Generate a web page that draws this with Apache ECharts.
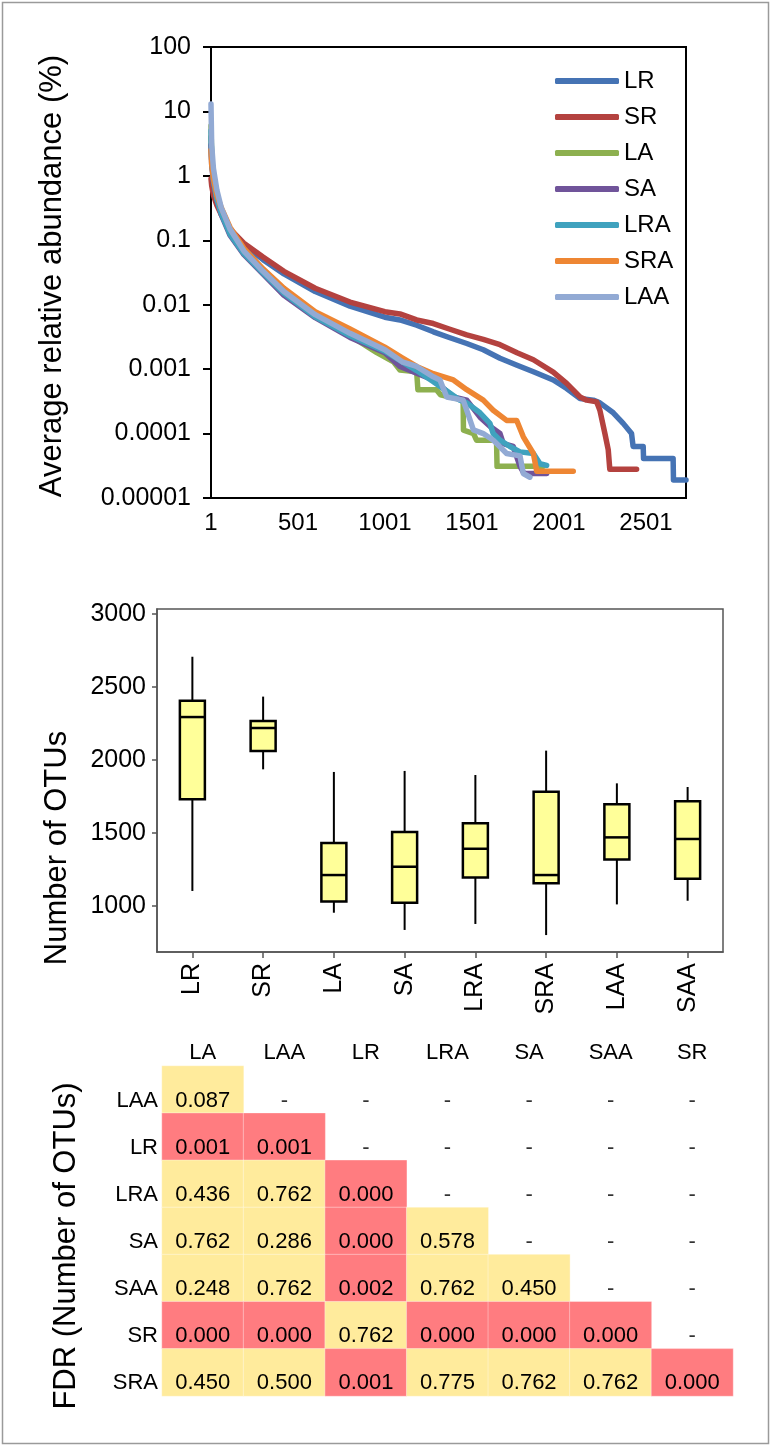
<!DOCTYPE html>
<html>
<head>
<meta charset="utf-8">
<script src="https://cdn.jsdelivr.net/npm/echarts@6/dist/echarts.min.js"></script>
<style>
  html, body { margin: 0; padding: 0; background: #fff; }
  #chart { width: 771px; height: 1446px; }
</style>
</head>
<body>
<div id="chart"></div>
<script>
// ---------- Panel 1: rank-abundance curves ([rank, average relative abundance %]) ----------
const seriesNames = ['LR', 'SR', 'LA', 'SA', 'LRA', 'SRA', 'LAA'];
const rankTickLabels = [1, 501, 1001, 1501, 2001, 2501];
const abundanceTickLabels = ['0.00001', '0.0001', '0.001', '0.01', '0.1', '1', '10', '100'];

const LR = [[1,4],[5,1.8],[15,0.9],[35,0.45],[60,0.28],[110,0.15],[190,0.085],[300,0.05],[420,0.03],[600,0.016],[800,0.0095],[1000,0.0064],[1087,0.0058],[1183,0.0048],[1279,0.0038],[1370,0.0031],[1471,0.0025],[1566,0.002],[1662,0.00148],[1760,0.00115],[1854,0.00091],[1968,0.00068],[2045,0.0005],[2122,0.00035],[2198,0.00033],[2236,0.0003],[2313,0.00021],[2370,0.000144],[2418,0.0001],[2427,0.000063],[2485,0.000063],[2487,0.000041],[2657,0.000041],[2659,0.000019],[2731,0.000019]];
const SR = [[1,0.9],[5,0.7],[15,0.5],[35,0.35],[60,0.25],[110,0.15],[190,0.09],[300,0.055],[420,0.033],[600,0.018],[800,0.011],[1000,0.0078],[1087,0.0072],[1183,0.0058],[1279,0.0051],[1370,0.0042],[1471,0.0034],[1566,0.0029],[1662,0.0024],[1760,0.0018],[1854,0.0014],[1968,0.0009],[2045,0.0006],[2122,0.00037],[2160,0.00033],[2218,0.00031],[2236,0.00023],[2265,0.0001],[2284,0.000056],[2293,0.000028],[2447,0.000028]];
const LA = [[1,6],[5,2],[15,0.9],[35,0.45],[60,0.26],[110,0.13],[190,0.065],[300,0.033],[420,0.016],[600,0.0068],[800,0.0033],[954,0.0018],[1050,0.0013],[1087,0.00097],[1183,0.00091],[1190,0.00048],[1297,0.00048],[1320,0.0004],[1450,0.00033],[1452,0.000113],[1510,0.0001],[1527,0.000079],[1642,0.000079],[1645,0.000031],[1911,0.000031]];
const SA = [[1,3],[5,1.5],[15,0.8],[35,0.42],[60,0.25],[110,0.12],[190,0.06],[300,0.03],[420,0.014],[600,0.0063],[800,0.0031],[1000,0.0018],[1087,0.0011],[1279,0.00068],[1394,0.00037],[1471,0.00033],[1547,0.00018],[1604,0.00013],[1662,0.0001],[1681,0.00007],[1738,0.000063],[1777,0.000031],[1800,0.000024],[1930,0.000024]];
const LRA = [[1,5],[5,1.8],[15,0.85],[35,0.43],[60,0.26],[110,0.125],[190,0.062],[300,0.031],[420,0.015],[600,0.0065],[800,0.0033],[1000,0.0019],[1100,0.0013],[1183,0.00095],[1279,0.00064],[1432,0.00033],[1471,0.0003],[1547,0.00021],[1604,0.000144],[1623,0.0001],[1662,0.000079],[1719,0.000063],[1777,0.000052],[1854,0.000049],[1892,0.000034],[1930,0.000032]];
const SRA = [[1,2.5],[5,1.5],[15,0.9],[35,0.5],[60,0.32],[110,0.16],[190,0.075],[300,0.036],[420,0.018],[600,0.0078],[800,0.0042],[1000,0.0022],[1100,0.0015],[1183,0.0011],[1279,0.00085],[1394,0.00068],[1471,0.00048],[1566,0.00033],[1623,0.00023],[1700,0.00016],[1758,0.00016],[1796,0.000089],[1854,0.000049],[1873,0.000026],[2083,0.000026]];
const LAA = [[1,13],[5,3],[15,1.3],[35,0.6],[60,0.32],[110,0.15],[190,0.068],[300,0.033],[420,0.016],[600,0.007],[800,0.0036],[1000,0.002],[1100,0.0013],[1183,0.0011],[1279,0.00076],[1317,0.00068],[1356,0.00037],[1450,0.00033],[1471,0.00023],[1509,0.000114],[1566,0.0001],[1623,0.000079],[1700,0.000049],[1777,0.000045],[1796,0.000024],[1834,0.000021]];
const curveData = [LR, SR, LA, SA, LRA, SRA, LAA];
const curveColors = ['#4573B4', '#B4423F', '#8DB04F', '#70549A', '#3FA2BE', '#EE8633', '#92AAD4'];

// ---------- Panel 2: Number of OTUs box plots ----------
const boxCategories = ['LR', 'SR', 'LA', 'SA', 'LRA', 'SRA', 'LAA', 'SAA'];
const boxMin    = [1103, 1936,  954,  836,  877,  801, 1011, 1036];
const boxQ1     = [1731, 2062, 1030, 1023, 1196, 1155, 1319, 1187];
const boxMedian = [2294, 2219, 1212, 1269, 1392, 1212, 1470, 1459];
const boxQ3     = [2406, 2267, 1431, 1507, 1566, 1782, 1696, 1717];
const boxMax    = [2707, 2434, 1918, 1925, 1897, 2064, 1840, 1815];
const otuTickValues = [1000, 1500, 2000, 2500, 3000];

// ---------- Panel 3: FDR table ----------
const fdrCols = ['LA', 'LAA', 'LR', 'LRA', 'SA', 'SAA', 'SR'];
const fdrRows = ['LAA', 'LR', 'LRA', 'SA', 'SAA', 'SR', 'SRA'];
const fdrLAA = [0.087, null, null, null, null, null, null];
const fdrLR  = [0.001, 0.001, null, null, null, null, null];
const fdrLRA = [0.436, 0.762, 0.000, null, null, null, null];
const fdrSA  = [0.762, 0.286, 0.000, 0.578, null, null, null];
const fdrSAA = [0.248, 0.762, 0.002, 0.762, 0.450, null, null];
const fdrSR  = [0.000, 0.000, 0.762, 0.000, 0.000, 0.000, null];
const fdrSRA = [0.450, 0.500, 0.001, 0.775, 0.762, 0.762, 0.000];
const fdrMatrix = [fdrLAA, fdrLR, fdrLRA, fdrSA, fdrSAA, fdrSR, fdrSRA];

// ---------- build ----------
const FONT = "'Liberation Sans', Arial, Helvetica, sans-serif";
const heatData = [], dashData = [];
fdrMatrix.forEach((row, r) => row.forEach((v, c) => {
  if (v === null) dashData.push([c, r]); else heatData.push([c, r, v]);
}));
const boxData = boxCategories.map((c, i) => [i, boxMin[i], boxQ1[i], boxMedian[i], boxQ3[i], boxMax[i]]);

function renderBox(params, api) {
  const i = api.value(0);
  const pMin = api.coord([i, api.value(1)]);
  const pQ1 = api.coord([i, api.value(2)]);
  const pMed = api.coord([i, api.value(3)]);
  const pQ3 = api.coord([i, api.value(4)]);
  const pMax = api.coord([i, api.value(5)]);
  const hw = 12.5, x = pMed[0];
  const ls = { stroke: '#000', lineWidth: 2 };
  return { type: 'group', children: [
    { type: 'line', shape: { x1: x, y1: pMax[1], x2: x, y2: pQ3[1] }, style: ls },
    { type: 'line', shape: { x1: x, y1: pQ1[1], x2: x, y2: pMin[1] }, style: ls },
    { type: 'rect', shape: { x: x - hw, y: pQ3[1], width: 2 * hw, height: pQ1[1] - pQ3[1] },
      style: { fill: '#FFFF99', stroke: '#000', lineWidth: 2.5 } },
    { type: 'line', shape: { x1: x - hw, y1: pMed[1], x2: x + hw, y2: pMed[1] }, style: { stroke: '#000', lineWidth: 2.5 } }
  ]};
}

const chart = echarts.init(document.getElementById('chart'), null, { renderer: 'canvas' });
const option = {
  animation: false,
  backgroundColor: '#fff',
  textStyle: { fontFamily: FONT },
  grid: [
    { left: 211, top: 47, width: 475, height: 451, show: true, borderColor: '#000', borderWidth: 2, backgroundColor: 'transparent' },
    { left: 157, top: 609, width: 566, height: 343, show: true, borderColor: '#555', borderWidth: 1.5, backgroundColor: 'transparent' },
    { left: 162, top: 1066, width: 571, height: 330 }
  ],
  legend: {
    orient: 'vertical', left: 550, top: 64, itemWidth: 64, itemHeight: 6, itemGap: 12,
    icon: 'roundRect', data: seriesNames,
    textStyle: { fontSize: 24, color: '#000', lineHeight: 24, fontFamily: FONT }
  },
  visualMap: {
    type: 'piecewise', show: false, seriesIndex: 8, dimension: 2,
    pieces: [{ lt: 0.05, color: '#FF7C80' }, { gte: 0.05, color: '#FFEB9C' }]
  },
  xAxis: [
    { type: 'value', gridIndex: 0, min: 1, max: 2731,
      axisLine: { show: true, lineStyle: { color: '#000', width: 2 } },
      axisTick: { show: false }, splitLine: { show: false },
      axisLabel: { customValues: rankTickLabels, fontSize: 24, color: '#000', margin: 13, fontFamily: FONT,
        formatter: v => String(v) } },
    { type: 'category', gridIndex: 1, data: boxCategories,
      axisLine: { show: true, lineStyle: { color: '#555', width: 1.5 } },
      axisTick: { show: true, alignWithLabel: true, length: 6, lineStyle: { color: '#555', width: 1.5 } },
      axisLabel: { rotate: 90, fontSize: 25, color: '#000', margin: 11, fontFamily: FONT } },
    { type: 'category', gridIndex: 2, data: fdrCols, position: 'top',
      axisLine: { show: false }, axisTick: { show: false }, splitLine: { show: false },
      axisLabel: { fontSize: 22, color: '#000', margin: 2, fontFamily: FONT } }
  ],
  yAxis: [
    { type: 'log', gridIndex: 0, logBase: 10, min: 0.00001, max: 100,
      axisLine: { show: true, lineStyle: { color: '#000', width: 2 } },
      axisTick: { show: true, length: 8, lineStyle: { color: '#000', width: 2 } },
      splitLine: { show: false }, minorTick: { show: false },
      axisLabel: { fontSize: 25, color: '#000', margin: 20, fontFamily: FONT,
        formatter: v => abundanceTickLabels[Math.round(Math.log10(v)) + 5] || '' } },
    { type: 'value', gridIndex: 1, min: 685, max: 3034,
      axisLine: { show: true, lineStyle: { color: '#555', width: 1.5 } },
      axisTick: { show: true, length: 5, customValues: otuTickValues, lineStyle: { color: '#555', width: 1.5 } },
      splitLine: { show: false },
      axisLabel: { customValues: otuTickValues, fontSize: 25, color: '#000', margin: 11, fontFamily: FONT,
        formatter: v => String(v) } },
    { type: 'category', gridIndex: 2, data: fdrRows, inverse: true,
      axisLine: { show: false }, axisTick: { show: false }, splitLine: { show: false },
      axisLabel: { fontSize: 22, color: '#000', margin: 4, fontFamily: FONT, verticalAlign: 'top', lineHeight: 22 } }
  ],
  series: [
    ...seriesNames.map((n, i) => ({
      name: n, type: 'line', xAxisIndex: 0, yAxisIndex: 0, data: curveData[i],
      showSymbol: false, symbol: 'none', smooth: false,
      lineStyle: { width: 5.5, color: curveColors[i], cap: 'round', join: 'round' },
      itemStyle: { color: curveColors[i] }
    })),
    { type: 'custom', xAxisIndex: 1, yAxisIndex: 1, data: boxData, renderItem: renderBox,
      encode: { x: 0, y: [1, 2, 3, 4, 5] } },
    { type: 'heatmap', xAxisIndex: 2, yAxisIndex: 2, data: heatData,
      itemStyle: { borderColor: 'rgba(255,255,255,0.35)', borderWidth: 1 },
      label: { show: true, fontSize: 22, color: '#000', fontFamily: FONT, offset: [0, 11],
        formatter: p => p.value[2].toFixed(3) } },
    { type: 'scatter', xAxisIndex: 2, yAxisIndex: 2, data: dashData, symbol: 'rect', symbolSize: 1,
      itemStyle: { color: 'rgba(0,0,0,0)' },
      label: { show: true, position: 'inside', formatter: '-', fontSize: 22, color: '#000', fontFamily: FONT, offset: [0, 11] } }
  ],
  graphic: [
    { type: 'rect', shape: { x: 2.5, y: 2.5, width: 766, height: 1441 }, style: { fill: 'none', stroke: '#9a9a9a', lineWidth: 1.5 }, silent: true },
    { type: 'text', x: 52, y: 276, rotation: Math.PI / 2,
      style: { text: 'Average relative abundance (%)', font: '31px ' + FONT, fill: '#000', align: 'center', verticalAlign: 'middle' } },
    { type: 'text', x: 57, y: 848, rotation: Math.PI / 2,
      style: { text: 'Number of OTUs', font: '31px ' + FONT, fill: '#000', align: 'center', verticalAlign: 'middle' } },
    { type: 'text', x: 66, y: 1246, rotation: Math.PI / 2,
      style: { text: 'FDR (Number of OTUs)', font: '31px ' + FONT, fill: '#000', align: 'center', verticalAlign: 'middle' } }
  ]
};
chart.setOption(option);
</script>
</body>
</html>
